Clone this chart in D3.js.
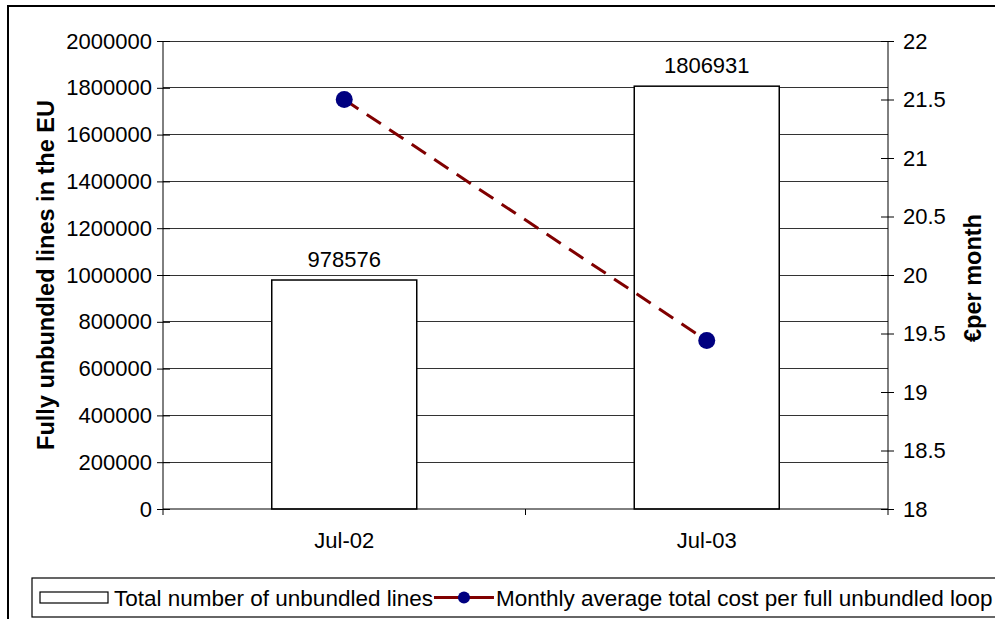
<!DOCTYPE html>
<html><head><meta charset="utf-8">
<script src="https://cdn.jsdelivr.net/npm/d3@7"></script>
<style>body{margin:0;background:#fff}svg{display:block}text{font-family:"Liberation Sans",Arial,sans-serif}</style>
</head><body>
<script>
const categories = ["Jul-02", "Jul-03"];
const lines = [978576, 1806931];
const cost = [21.5, 19.44];
const leftTicks = [0,200000,400000,600000,800000,1000000,1200000,1400000,1600000,1800000,2000000];
const rightTicks = [18,18.5,19,19.5,20,20.5,21,21.5,22];
const seriesNames = ["Total number of unbundled lines", "Monthly average total cost per full unbundled loop"];

const W = 995, H = 619;
const svg = d3.select("body").append("svg").attr("width", W).attr("height", H);
const L = 163, R = 888, T = 41, B = 509;
const fs = 22, fsT = 23.5, fsL = 22.5;

svg.append("rect").attr("x", 8).attr("y", 6).attr("width", 1000).attr("height", 700)
  .attr("fill", "#fff").attr("stroke", "#000").attr("stroke-width", 2);

const x = d3.scaleBand().domain(categories).range([L, R]).paddingInner(0.6).paddingOuter(0.3);
const xb = d3.scaleBand().domain(categories).range([L, R]);
const y = d3.scaleLinear().domain([0, 2000000]).range([B, T]);
const y2 = d3.scaleLinear().domain([18, 22]).range([B, T]);

// gridlines
svg.append("g").selectAll("line").data(leftTicks.filter(d => d > 0)).join("line")
  .attr("x1", L).attr("x2", R).attr("y1", d => y(d)).attr("y2", d => y(d))
  .attr("stroke", "#333").attr("stroke-width", 1).attr("shape-rendering", "crispEdges");

// bars
svg.append("g").selectAll("rect").data(categories).join("rect")
  .attr("x", d => x(d)).attr("width", x.bandwidth())
  .attr("y", (d, i) => y(lines[i])).attr("height", (d, i) => B - y(lines[i]))
  .attr("fill", "#fff").attr("stroke", "#000").attr("stroke-width", 1.5);

svg.append("g").selectAll("text").data(categories).join("text")
  .attr("x", d => x(d) + x.bandwidth() / 2).attr("y", (d, i) => y(lines[i]) - 13)
  .attr("text-anchor", "middle").attr("font-size", fs).text((d, i) => lines[i]);

// left axis
const gl = svg.append("g").attr("transform", `translate(${L},0)`)
  .call(d3.axisLeft(y).tickValues(leftTicks).tickSize(6).tickPadding(5).tickFormat(d3.format("d")));
gl.selectAll("text").attr("font-size", fs).attr("fill", "#000").style("font-family", '"Liberation Sans",Arial,sans-serif');
gl.selectAll("line").attr("x2", -6).attr("x1", 7);
gl.select(".domain").attr("d", `M0,${T}V${B}`);

// right axis
const gr = svg.append("g").attr("transform", `translate(${R},0)`)
  .call(d3.axisRight(y2).tickValues(rightTicks).tickSize(6).tickPadding(9).tickFormat(d => d));
gr.selectAll("text").attr("font-size", fs).attr("fill", "#000").style("font-family", '"Liberation Sans",Arial,sans-serif');
gr.selectAll("line").attr("x1", -7).attr("x2", 6);
gr.select(".domain").attr("d", `M0,${T}V${B}`);

// bottom axis
const gb = svg.append("g");
gb.append("line").attr("x1", L).attr("x2", R).attr("y1", B).attr("y2", B).attr("stroke", "#000");
gb.selectAll(".tk").data([L, (L + R) / 2, R]).join("line").attr("class", "tk")
  .attr("x1", d => d).attr("x2", d => d).attr("y1", B).attr("y2", B + 6).attr("stroke", "#000");
gb.selectAll("text").data(categories).join("text")
  .attr("x", d => xb(d) + xb.bandwidth() / 2).attr("y", 548)
  .attr("text-anchor", "middle").attr("font-size", fs).text(d => d);

// line series
const lx = d => xb(d) + xb.bandwidth() / 2;
svg.append("path").datum(categories)
  .attr("d", d3.line().x(d => lx(d)).y((d, i) => y2(cost[i])))
  .attr("fill", "none").attr("stroke", "#800000").attr("stroke-width", 3).attr("stroke-dasharray", "17,10");
svg.append("g").selectAll("circle").data(categories).join("circle")
  .attr("cx", d => lx(d)).attr("cy", (d, i) => y2(cost[i])).attr("r", 8.5).attr("fill", "#000080");

// axis titles
svg.append("text").attr("transform", "translate(54,275) rotate(-90)")
  .attr("text-anchor", "middle").attr("font-size", fsT).attr("font-weight", "bold")
  .text("Fully unbundled lines in the EU");
svg.append("text").attr("transform", "translate(981,278) rotate(-90)")
  .attr("text-anchor", "middle").attr("font-size", fsT).attr("font-weight", "bold")
  .text("€per month");

// legend
const lg = svg.append("g");
lg.append("rect").attr("x", 32).attr("y", 578).attr("width", 1000).attr("height", 39)
  .attr("fill", "#fff").attr("stroke", "#000").attr("stroke-width", 1.2);
lg.append("rect").attr("x", 40).attr("y", 592).attr("width", 68).attr("height", 11)
  .attr("fill", "#fff").attr("stroke", "#000").attr("stroke-width", 1.2);
const t1 = lg.append("text").attr("x", 114).attr("y", 606).attr("font-size", fsL).text(seriesNames[0]);
const e1 = 114 + t1.node().getComputedTextLength();
lg.append("line").attr("x1", e1 + 1).attr("x2", e1 + 61).attr("y1", 597.5).attr("y2", 597.5)
  .attr("stroke", "#800000").attr("stroke-width", 3);
lg.append("circle").attr("cx", e1 + 31).attr("cy", 597.5).attr("r", 6).attr("fill", "#000080");
lg.append("text").attr("x", e1 + 63).attr("y", 606).attr("font-size", fsL).text(seriesNames[1]);
</script>
</body></html>
